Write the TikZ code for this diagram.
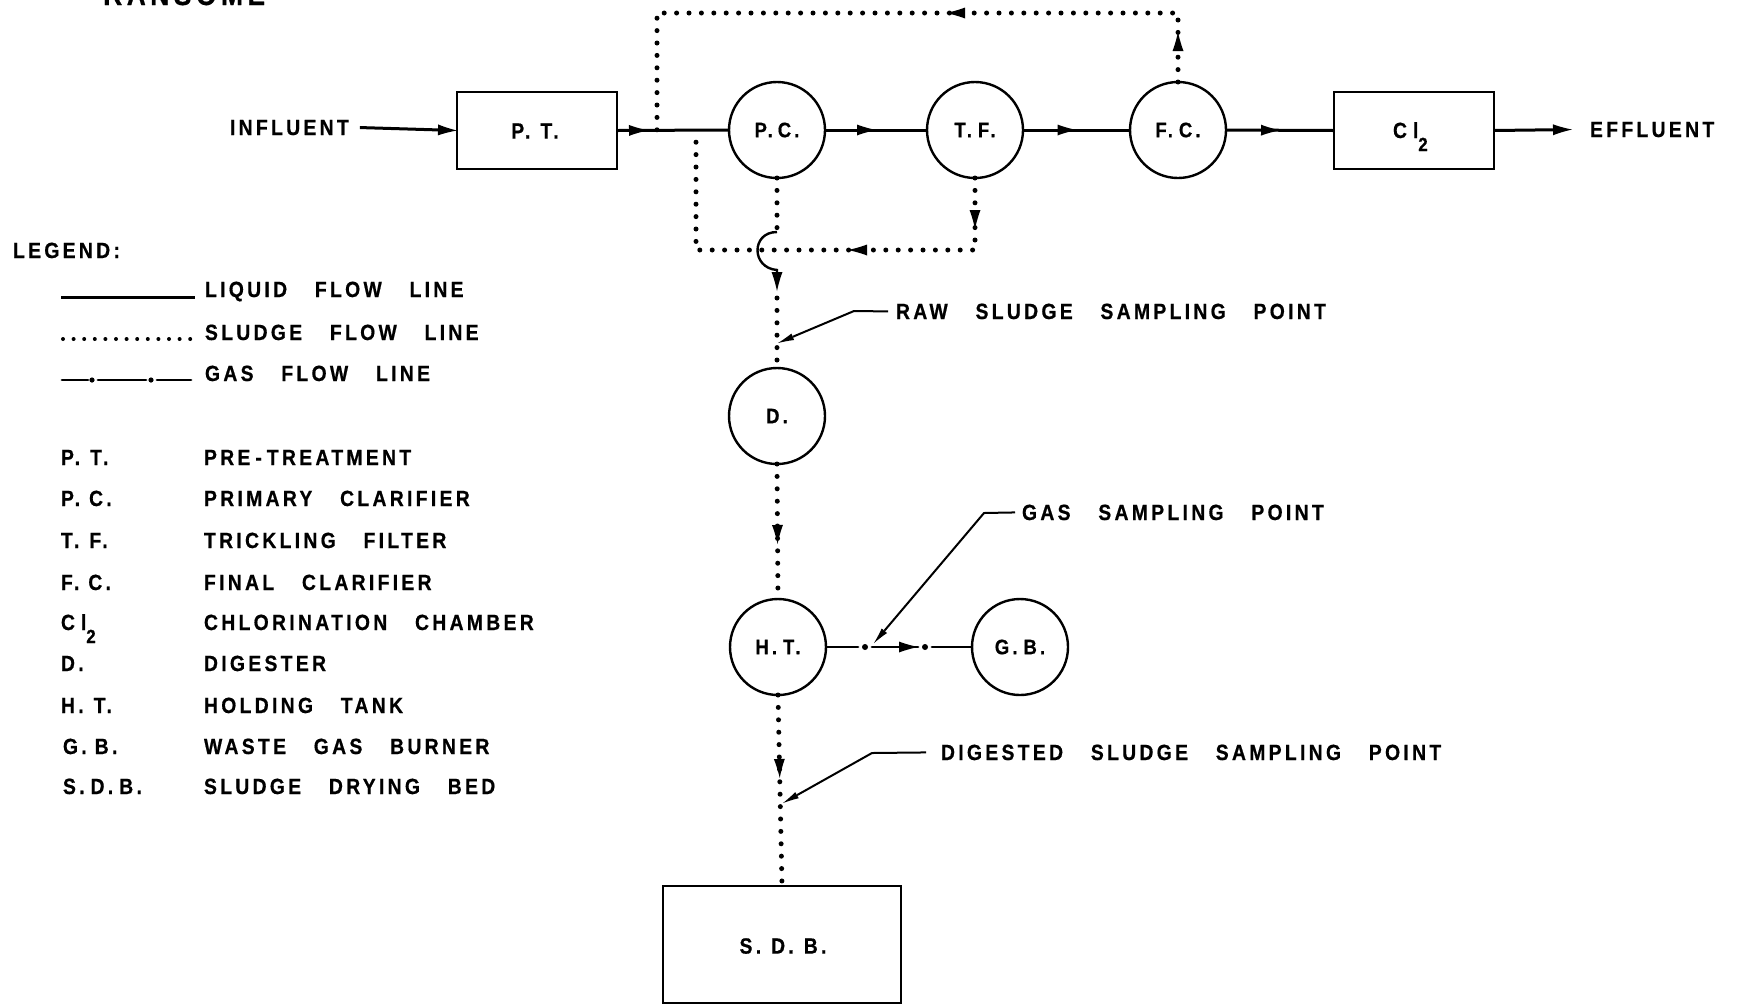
\documentclass[tikz,border=0pt]{standalone}
\usepackage{fontspec}
\setmainfont{Liberation Sans}
\newfontfamily\lf[FakeStretch=0.88,FakeBold=0.6,LetterSpace=15,WordSpace=3.2]{Liberation Sans}
\usetikzlibrary{arrows.meta,decorations.markings}
\tikzset{
  >={Latex[length=19pt,width=11pt,line width=0pt]},
  lbl/.style={font=\lf\bfseries\fontsize{22}{26}\selectfont, inner sep=0pt, outer sep=0pt},
  liq/.style={line width=3pt},
  box/.style={draw, line width=2.4pt, rectangle, minimum width=160pt, minimum height=77pt, inner sep=0pt, outer sep=0pt},
  unit/.style={draw, line width=2.4pt, circle, minimum size=96pt, inner sep=0pt, outer sep=0pt, font=\lf\bfseries\fontsize{21}{25}\selectfont},
  sludge/.style={line width=5pt, line cap=round, dash pattern=on 0pt off 12.4pt},
  lsludge/.style={line width=4pt, line cap=round, dash pattern=on 0pt off 10.6pt},
  gasline/.style={line width=2.8pt, line cap=round},
  leader/.style={line width=2pt, -{Latex[length=16pt,width=7pt,line width=0pt]}},
  tipat/.style={postaction={decorate}, decoration={markings, mark=at position #1 with {\arrow[solid]{>}}}},
}
\begin{document}
\begin{tikzpicture}[x=1pt,y=-1pt]
\useasboundingbox (0,0) rectangle (1744,1005);
\fill[white] (0,0) rectangle (1744,1005);
\clip (0,0) rectangle (1744,1005);

% title (cut off at the top, as in the original)
\node[anchor=base west, inner sep=0pt, font=\lf\bfseries\fontsize{30}{32}\selectfont] (title) at (103,5) {RANSOME};

% main units
\node[box] (pt) at (537,130.5) {};
\node[lbl] (ptl) at (535,131) {P.\kern10pt T.};
\node[unit] (pc) at (777,130) {P.\kern5pt C.};
\node[unit] (tf) at (975,130) {T.\kern6pt F.};
\node[unit] (fc) at (1178,130) {F.\kern6pt C.};
\node[box] (cl) at (1414,130.5) {};
\node[lbl, anchor=base west] (cll) at (1393,138) {C\kern6pt l\raisebox{-13pt}{\fontsize{19}{22}\selectfont 2}};
\node[unit] (d) at (777,416) {D.};
\node[unit] (ht) at (778,647) {H.\kern6pt T.};
\node[unit] (gb) at (1020,647) {G.\kern6pt B.};
\node[box, minimum width=238pt, minimum height=117pt] (sdb) at (782,944.5) {};
\node[lbl] (sdbl) at (783,946) {S.\kern10pt D.\kern10pt B.};

\node[lbl, anchor=base west] (influent) at (230,135) {INFLUENT};
\node[lbl, anchor=base west] (effluent) at (1590,137) {EFFLUENT};

% liquid flow
\draw[liq,->] ([xshift=11pt]influent.east) -- (pt.west);
\draw[liq,tipat=31pt] (pt.east) -- (pc.west);
\draw[liq,tipat=0.5] (pc.east) -- (tf.west);
\draw[liq,tipat=0.5] (tf.east) -- (fc.west);
\draw[liq,tipat=0.5] (fc.east) -- (cl.west);
\draw[liq,->] (cl.east) -- ([xshift=-18pt]effluent.west);

% sludge recycle from final clarifier
\coordinate (tr) at (1178,13);
\coordinate (tl) at (657,13);
\coordinate (tj) at (657,130);
\draw[sludge, postaction={decorate}, decoration={markings,
   mark=at position 50pt with {\arrow[solid]{>}},
   mark=at position 301pt with {\arrow[solid]{>}}}]
   (fc.north) -- (tr) -- (tl) -- (tj);

% sludge return from trickling filter
\coordinate (br) at (975,250);
\coordinate (bl) at (696,250);
\coordinate (bj) at (696,130);
\draw[sludge, postaction={decorate}, decoration={markings,
   mark=at position 51pt with {\arrow[solid]{>}},
   mark=at position 199pt with {\arrow[solid]{>}}}]
   (tf.south) -- (br) -- (bl) -- (bj);

% raw sludge from primary clarifier to digester, with crossing hop
\coordinate (hopA) at (777,232);
\coordinate (hopB) at (777,270);
\coordinate (hopC) at (777,291);
\coordinate (hopD) at (777,298);
\draw[sludge] (pc.south) -- (hopA);
\draw[line width=2.4pt,->] (hopA) .. controls (751,232) and (751,268) .. (hopB) -- (hopC);
\draw[sludge] (hopD) -- (d.north);

% digester to holding tank
\draw[sludge, tipat=80pt] (d.south) -- (ht.north);
% holding tank to sludge drying bed
\draw[sludge, tipat=83pt] (ht.south) -- (sdb.north);

% gas line
\draw[gasline, dash pattern=on 32pt off 14pt on 46pt off 14pt on 60pt,
   postaction={decorate}, decoration={markings,
   mark=at position 39pt with {\fill (0,0) circle (3pt);},
   mark=at position 92pt with {\arrow[solid]{>}},
   mark=at position 99pt with {\fill (0,0) circle (3pt);}}]
   (ht.east) -- (gb.west);

% sampling points
\node[lbl, anchor=base west] (rawtxt) at (896,319) {RAW SLUDGE SAMPLING POINT};
\coordinate (rawk) at (854,311);
\coordinate (rawp) at (778,343);
\draw[leader] ([xshift=-8pt]rawtxt.west) -- (rawk) -- (rawp);

\node[lbl, anchor=base west] (gastxt) at (1022,520) {GAS SAMPLING POINT};
\coordinate (gask) at (984,513);
\coordinate (gasp) at (874,643);
\draw[leader] ([xshift=-7pt]gastxt.west) -- (gask) -- (gasp);

\node[lbl, anchor=base west] (digtxt) at (941,760) {DIGESTED SLUDGE SAMPLING POINT};
\coordinate (digk) at (872,753);
\coordinate (digp) at (783,803);
\draw[leader] ([xshift=-15pt]digtxt.west) -- (digk) -- (digp);

% legend
\node[lbl, anchor=base west] (legend) at (13,258) {LEGEND:};
\draw[liq] (61,297) -- (195,297);
\node[lbl, anchor=base west] (lg1) at (205,297) {LIQUID FLOW LINE};
\draw[lsludge] (63,339) -- (196,339);
\node[lbl, anchor=base west] (lg2) at (205,340) {SLUDGE FLOW LINE};
\draw[gasline, dash pattern=on 26pt off 10pt on 48pt off 11pt on 40pt,
   postaction={decorate}, decoration={markings,
   mark=at position 30pt with {\fill (0,0) circle (2.6pt);},
   mark=at position 89pt with {\fill (0,0) circle (2.6pt);}}]
   (62,380) -- (191,380);
\node[lbl, anchor=base west] (lg3) at (205,381) {GAS FLOW LINE};

\node[lbl, anchor=base west] (a1) at (61,465) {P.\kern10pt T.};
\node[lbl, anchor=base west] (b1) at (204,465) {PRE\kern5pt-\kern5pt TREATMENT};
\node[lbl, anchor=base west] (a2) at (61,506) {P.\kern9pt C.};
\node[lbl, anchor=base west] (b2) at (204,506) {PRIMARY CLARIFIER};
\node[lbl, anchor=base west] (a3) at (61,548) {T.\kern10pt F.};
\node[lbl, anchor=base west] (b3) at (204,548) {TRICKLING FILTER};
\node[lbl, anchor=base west] (a4) at (61,590) {F.\kern9pt C.};
\node[lbl, anchor=base west] (b4) at (204,590) {FINAL CLARIFIER};
\node[lbl, anchor=base west] (a5) at (61,630) {C\kern6pt l\raisebox{-13pt}{\fontsize{19}{22}\selectfont 2}};
\node[lbl, anchor=base west] (b5) at (204,630) {CHLORINATION CHAMBER};
\node[lbl, anchor=base west] (a6) at (61,671) {D.};
\node[lbl, anchor=base west] (b6) at (204,671) {DIGESTER};
\node[lbl, anchor=base west] (a7) at (61,713) {H.\kern10pt T.};
\node[lbl, anchor=base west] (b7) at (204,713) {HOLDING TANK};
\node[lbl, anchor=base west] (a8) at (63,754) {G.\kern8pt B.};
\node[lbl, anchor=base west] (b8) at (204,754) {WASTE GAS BURNER};
\node[lbl, anchor=base west] (a9) at (63,794) {S.\kern6pt D.\kern6pt B.};
\node[lbl, anchor=base west] (b9) at (204,794) {SLUDGE DRYING BED};
\end{tikzpicture}
\end{document}
